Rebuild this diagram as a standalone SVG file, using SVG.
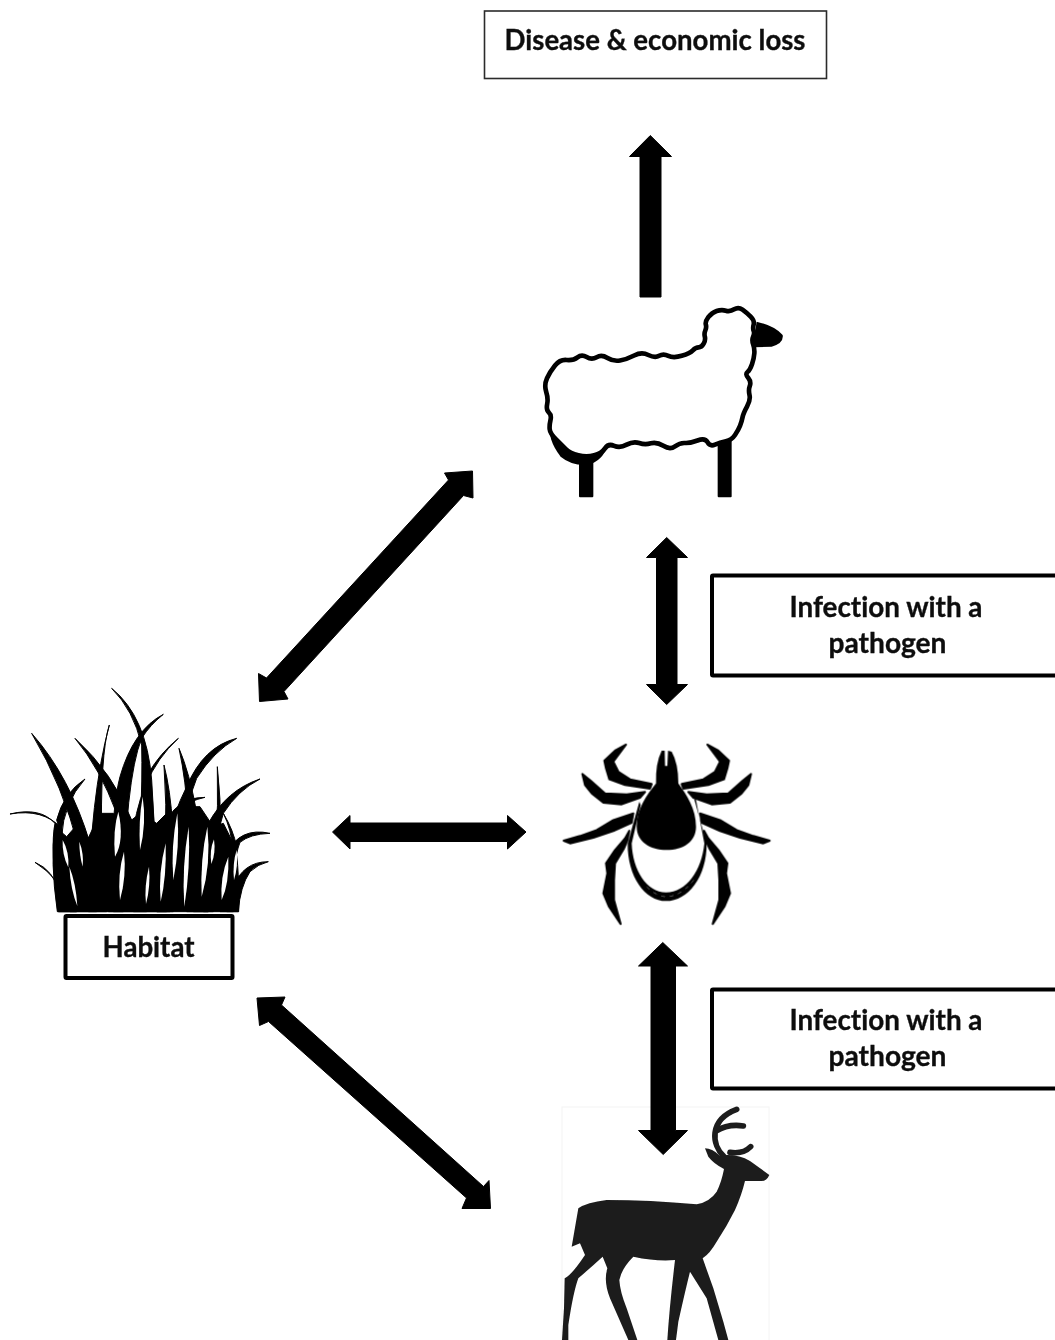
<svg xmlns="http://www.w3.org/2000/svg" xmlns:xlink="http://www.w3.org/1999/xlink" width="1055" height="1340" viewBox="0 0 1055 1340">
<defs>
<filter id="soft" x="-5%" y="-5%" width="110%" height="110%"><feGaussianBlur stdDeviation="0.6"/></filter>
<g id="tick-legs" stroke="#000" stroke-width="6" stroke-linejoin="round">
<polygon points="305,162 240,148 205,125 190,95 228,44 195,62 163,92 168,115 178,148 225,165 300,176"/>
<polygon points="97,132 122,152 165,190 230,193 285,186 270,203 215,223 160,218 125,190 105,165"/>
<polygon points="41,332 90,318 140,300 190,270 250,250 245,278 190,303 130,323 60,340"/>
<polygon points="238,302 233,330 222,355 195,400 192,450 192,510 212,582 177,530 160,490 172,430 168,400 195,360 225,325"/>
</g>
</defs>
<style>
.box{fill:#fff;stroke:#000;stroke-width:4}
.thin{fill:#fff;stroke:#2b2b2b;stroke-width:1.6}
.label{font-family:"Lato","Liberation Sans",sans-serif;font-weight:700;font-variant-ligatures:none;fill:#111;stroke:#111;stroke-width:.35;text-anchor:middle;filter:url(#soft)}
.arrow{fill:#000;stroke:#000;stroke-width:1;stroke-linejoin:round;filter:url(#soft)}
.icon{filter:url(#soft)}
.blades path{stroke:#000;stroke-width:3;stroke-linejoin:round}
.gaps path{fill:#fff;stroke:none}
</style>
<rect width="1055" height="1340" fill="#fff"/>

<g id="node-disease">
<rect class="thin" x="484.5" y="11" width="342" height="67.5"/>
<text class="label" x="655" y="49.5" font-size="28" textLength="301" lengthAdjust="spacingAndGlyphs">Disease &amp; economic loss</text>
</g>

<g id="node-sheep" class="icon" transform="translate(530 290) scale(.33333)">
<rect x="147" y="490" width="43" height="132" rx="3"/>
<rect x="563" y="445" width="42" height="177" rx="3"/>
<path d="M680 95 Q735 108 758 135 Q762 160 725 170 L668 172 Z"/>
<path d="M60 400 Q52 450 92 500 Q125 528 175 524 Q215 515 235 465 L200 400 L100 400 Z"/>
<path fill="#fff" stroke="#000" stroke-width="14" stroke-linejoin="round" d="M506 172 Q515 172 521 161 Q527 150 524.5 140 Q522 130 526 121 Q530 112 527.5 103.5 Q525 95 535 81.5 Q545 68 560 63 Q575 58 587.5 62 Q600 66 612.5 58 Q625 50 637.5 59 Q650 68 662 80 Q674 92 671 103.5 Q668 115 671 122.5 Q674 130 669.5 140 Q665 150 669.5 162.5 Q674 175 673 190 Q672 205 666 222.5 Q660 240 652.5 246 Q645 252 654.5 263.5 Q664 275 659.5 287.5 Q655 300 658.5 315 Q662 330 651 350 Q640 370 637.5 382.5 Q635 395 630 407.5 Q625 420 615 435 Q605 450 587.5 454 Q570 458 555 464 Q540 470 532.5 456.5 Q525 443 502.5 451.5 Q480 460 465 459 Q450 458 435 469 Q420 480 400 467.5 Q380 455 362.5 460 Q345 465 327.5 459 Q310 453 290 464 Q270 475 252.5 467.5 Q235 460 225 475 Q215 490 192.5 496 Q170 502 145 496 Q120 490 107.5 477.5 Q95 465 77.5 447.5 Q60 430 59 417.5 Q58 405 61.5 390 Q65 375 56.5 367.5 Q48 360 51.5 342.5 Q55 325 48.5 305 Q42 285 51 265 Q60 245 75 226.5 Q90 208 110 210 Q130 212 142.5 202 Q155 192 170 201 Q185 210 200 201.5 Q215 193 232.5 204 Q250 215 270 211.5 Q290 208 312.5 196.5 Q335 185 355 195 Q375 205 387.5 197.5 Q400 190 415 197.5 Q430 205 455 197.5 Q480 190 488.5 181 Q497 172 506 172 Z"/>
</g>

<g id="node-tick" class="icon" transform="translate(550 730) scale(.33333)">
<use xlink:href="#tick-legs" href="#tick-legs"/>
<use xlink:href="#tick-legs" href="#tick-legs" transform="translate(700) scale(-1 1)"/>
<path d="M318 160 C290 195 260 235 260 290 C260 335 300 360 350 360 C400 360 438 335 438 290 C438 235 410 195 385 160 Q385 100 365 65 L354 62 L352 108 L345 108 L344 62 L335 62 Q316 100 318 160 Z"/>
<path d="M268 215 L233 340 C232 440 285 513 348 513 C415 513 470 440 470 340 L432 205 L438 210 L463 340 C455 420 410 487 348 487 C290 487 248 420 245 340 L272 225 Z"/>
<path d="M290 470 C310 490 330 500 348 500 C380 500 410 480 435 445" fill="none" stroke="#555" stroke-width="3" stroke-dasharray="12 14"/>
</g>

<g id="node-habitat">
<g class="icon" transform="translate(0 680) scale(.33333)">
<g class="blades">
<path d="M172 695 Q150 540 165 440 L200 470 L235 430 L262 480 L300 400 L340 400 L370 440 L420 400 L470 430 L500 400 L530 420 L560 380 L600 380 L640 440 L670 430 L700 490 Q718 520 716 695 Z"/>
<path d="M335 25 Q440 110 455 300 Q470 500 470 695 L400 695 Q430 400 425 195 Q400 90 335 25Z"/>
<path d="M95 160 Q210 290 270 490 L290 695 L210 695 L235 500 Q190 320 95 160Z"/>
<path d="M225 175 Q340 280 395 420 L440 695 L340 695 L350 400 Q300 265 225 175Z"/>
<path d="M328 135 Q300 220 305 500 L320 695 L265 695 Q270 350 328 135Z"/>
<path d="M490 103 Q400 150 360 290 Q335 380 325 695 L370 695 Q375 300 425 175 Q450 135 490 103Z"/>
<path d="M535 175 Q480 220 445 280 L420 500 L395 500 Q410 290 535 175Z"/>
<path d="M710 175 Q610 200 560 320 Q480 480 470 695 L510 695 Q530 450 590 295 Q640 215 710 175Z"/>
<path d="M492 255 Q530 400 520 695 L470 695 Q510 500 492 255Z"/>
<path d="M537 205 Q600 350 625 695 L560 695 Q580 400 537 205Z"/>
<path d="M652 260 Q675 450 640 695 L610 695 Q660 500 652 260Z"/>
<path d="M780 297 Q680 330 625 430 Q590 520 580 695 L625 695 Q640 500 670 400 Q715 330 780 297Z"/>
<path d="M810 460 Q720 440 680 520 L660 695 L700 695 Q695 550 720 487 Q750 462 810 460Z"/>
<path d="M805 545 Q730 545 700 620 L680 695 L715 695 Q720 620 750 575 Q775 552 805 545Z"/>
<path d="M105 547 Q160 570 180 640 L175 695 L230 695 Q175 590 105 547Z"/>
<path d="M30 402 Q120 380 165 430 Q150 500 175 695 L230 695 Q190 500 185 445 Q130 385 30 402Z"/>
<path d="M255 297 Q190 340 170 420 L185 470 Q190 370 255 297Z"/>
<path d="M670 400 Q700 450 710 500 L698 510 Q695 450 670 400Z"/>
<path d="M615 352 Q540 350 500 420 L470 695 L500 695 Q510 450 540 385 Q570 362 615 352Z"/>
</g>
<g class="gaps">
<path d="M188 480 Q186 525 205 562 Q208 515 188 480Z"/>
<path d="M208 560 Q212 630 232 678 Q228 610 208 560Z"/>
<path d="M238 485 Q238 525 248 560 Q252 520 238 485Z"/>
<path d="M372 515 Q352 580 360 660 Q380 590 372 515Z"/>
<path d="M355 395 Q338 450 345 530 Q374 480 355 395Z"/>
<path d="M428 350 Q415 420 420 510 Q440 430 428 350Z"/>
<path d="M447 560 Q432 620 438 672 Q452 620 447 560Z"/>
<path d="M497 490 Q474 580 482 665 Q500 590 497 490Z"/>
<path d="M532 400 Q512 500 520 600 Q540 500 532 400Z"/>
<path d="M566 440 Q545 560 553 680 Q572 560 566 440Z"/>
<path d="M622 440 Q600 540 605 650 Q634 550 622 440Z"/>
<path d="M642 478 Q628 510 634 552 Q648 520 642 478Z"/>
<path d="M685 530 Q660 590 665 660 Q688 610 685 530Z"/>
<path d="M710 510 Q697 550 702 600 Q715 560 710 510Z"/>
</g>
</g>
<rect class="box" x="65.5" y="916" width="167" height="62" rx="1"/>
<text class="label" x="148.5" y="956.5" font-size="28" textLength="92" lengthAdjust="spacingAndGlyphs">Habitat</text>
</g>

<g id="node-deer">
<rect x="562" y="1107" width="207" height="240" fill="#fff" stroke="#f4f4f4" stroke-width="1"/>
<g class="icon" transform="translate(550 1095) scale(.33333)" fill="#1c1c1c">
<path d="M658 240 Q650 258 635 258 L585 258 Q575 300 555 345 Q530 395 500 440 Q480 475 458 490 L490 580 L520 680 L535 735 L505 735 L470 610 L420 530 Q405 590 385 680 L378 735 L352 735 Q358 640 375 495 Q320 500 250 485 Q215 520 208 555 Q210 590 230 640 L262 735 L235 735 L180 610 Q160 560 172 520 L158 485 Q125 515 85 550 Q70 590 55 690 L55 735 L36 735 L42 640 L44 550 Q65 540 105 480 L90 445 L65 455 L85 340 Q110 322 170 315 Q300 315 440 328 Q480 320 500 290 Q515 260 522 222 Q490 205 475 185 L465 160 Q485 160 510 182 Q560 175 600 198 Z"/>
<g fill="none" stroke="#1c1c1c" stroke-width="17" stroke-linecap="round">
<path d="M522 185 C485 150 475 75 560 43"/>
<path d="M498 108 Q535 86 580 93"/>
<path d="M540 172 Q580 178 602 155"/>
</g>
</g>
</g>

<g id="node-infection-upper">
<rect class="box" x="712" y="575.5" width="360" height="100" rx="1"/>
<text class="label" x="886" y="616.5" font-size="28" textLength="193" lengthAdjust="spacingAndGlyphs">Infection with a</text>
<text class="label" x="887.5" y="652.5" font-size="28" textLength="118" lengthAdjust="spacingAndGlyphs">pathogen</text>
</g>

<g id="node-infection-lower">
<rect class="box" x="712" y="989.5" width="360" height="99" rx="1"/>
<text class="label" x="886" y="1030" font-size="28" textLength="193" lengthAdjust="spacingAndGlyphs">Infection with a</text>
<text class="label" x="887.5" y="1066" font-size="28" textLength="118" lengthAdjust="spacingAndGlyphs">pathogen</text>
</g>

<g id="connectors">
<polygon class="arrow" points="650.3,135.5 671.5,156.5 661,156.5 661,297 640,297 640,156.5 629.5,156.5"/>
<polygon class="arrow" points="666.7,537.5 687.5,557.5 677,557.5 677,684.5 687.5,684.5 666.7,704.5 646.5,684.5 656.5,684.5 656.5,557.5 646.5,557.5"/>
<polygon class="arrow" points="662.8,942.5 687.5,966 675.5,966 675.5,1130.5 687.5,1130.5 663.2,1154.5 638.5,1130.5 651,1130.5 651,966 638.5,966"/>
<polygon class="arrow" points="332.5,832 350,815.5 350,823 507.5,823 507.5,815.5 526,832 507.5,849 507.5,841.5 350,841.5 350,849"/>
<polygon class="arrow" points="472.5,471 473,498 463.5,495.5 284,691.5 288,699 259.5,701.5 258.5,673.5 266.5,678 448.5,480 444.5,473"/>
<polygon class="arrow" points="257,998 285,997 281.5,1005 483.5,1186.5 489,1180.5 490.5,1208.5 462,1208.5 466.5,1198 268.5,1021.5 259.5,1025.5"/>
</g>
</svg>
